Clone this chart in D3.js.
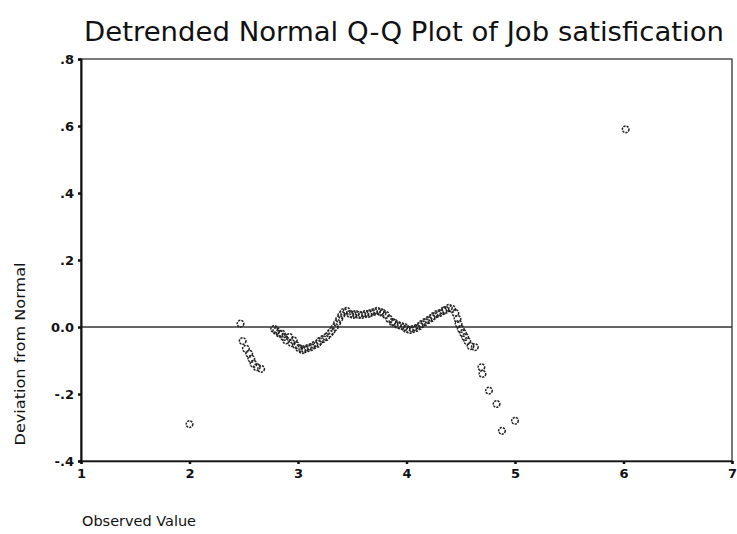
<!DOCTYPE html>
<html>
<head>
<meta charset="utf-8">
<script src="https://cdn.jsdelivr.net/npm/d3@7"></script>
<style>
  html, body { margin: 0; padding: 0; background: #fff; }
  svg { display: block; }
</style>
</head>
<body>
<svg id="chart" width="737" height="534"></svg>
<script>
// ---- data ----
const title = "Detrended Normal Q-Q Plot of Job satisfication";
const xLabel = "Observed Value";
const yLabel = "Deviation from Normal";
const xTicks = [1, 2, 3, 4, 5, 6, 7];
const xTickLabels = ["1", "2", "3", "4", "5", "6", "7"];
const yTicks = [0.8, 0.6, 0.4, 0.2, 0.0, -0.2, -0.4];
const yTickLabels = [".8", ".6", ".4", ".2", "0.0", "-.2", "-.4"];

const observed = [
  2.00, 2.47, 2.49, 2.52, 2.55, 2.57, 2.59, 2.62, 2.66,
  2.78, 2.80, 2.83, 2.85, 2.87, 2.89, 2.92, 2.94, 2.96, 2.98,
  3.01, 3.04, 3.06, 3.09, 3.12, 3.15, 3.18, 3.20, 3.23, 3.26, 3.29,
  3.31, 3.34, 3.36, 3.38, 3.40, 3.42, 3.45, 3.48, 3.51, 3.53, 3.56,
  3.59, 3.62, 3.65, 3.67, 3.70, 3.73, 3.76, 3.78, 3.81, 3.84, 3.87,
  3.89, 3.92, 3.95, 3.98, 4.00, 4.03, 4.06, 4.09, 4.12, 4.14, 4.17,
  4.20, 4.23, 4.25, 4.28, 4.31, 4.34, 4.36, 4.39, 4.42, 4.45, 4.47,
  4.48, 4.50, 4.52, 4.54, 4.56, 4.59, 4.63, 4.69, 4.70, 4.76, 4.83,
  4.88, 5.00, 6.02
];
const deviation = [
  -0.290, 0.010, -0.042, -0.065, -0.080, -0.095, -0.110, -0.120, -0.125,
  -0.006, -0.012, -0.020, -0.020, -0.030, -0.040, -0.030, -0.048, -0.040, -0.054,
  -0.063, -0.069, -0.066, -0.063, -0.060, -0.054, -0.050, -0.042, -0.036, -0.030, -0.020,
  -0.012, 0.000, 0.012, 0.024, 0.036, 0.045, 0.048, 0.039, 0.036, 0.039, 0.036,
  0.036, 0.039, 0.039, 0.042, 0.045, 0.048, 0.045, 0.042, 0.036, 0.024, 0.015,
  0.012, 0.006, 0.003, 0.000, -0.006, -0.009, -0.006, -0.003, 0.003, 0.009, 0.015,
  0.021, 0.027, 0.033, 0.039, 0.042, 0.048, 0.051, 0.057, 0.054, 0.042, 0.024,
  0.009, -0.006, -0.018, -0.030, -0.042, -0.057, -0.060, -0.120, -0.140, -0.190, -0.230,
  -0.310, -0.280, 0.590
];

// ---- layout ----
const svg = d3.select("#chart");
const mLeft = 81, mRight = 732, mTop = 59, mBottom = 461;

const x = d3.scaleLinear().domain([1, 7]).range([mLeft, mRight]);
const y = d3.scaleLinear().domain([-0.4, 0.8]).range([mBottom, mTop]);

const ink = "#111";
const font = "DejaVu Sans, Verdana, sans-serif";

// title
svg.append("text")
  .attr("x", 404).attr("y", 41)
  .attr("text-anchor", "middle")
  .attr("font-family", font)
  .attr("font-size", 26)
  .attr("textLength", 640)
  .attr("lengthAdjust", "spacingAndGlyphs")
  .attr("fill", ink)
  .text(title);

// frame
svg.append("rect")
  .attr("x", mLeft).attr("y", mTop)
  .attr("width", mRight - mLeft).attr("height", mBottom - mTop)
  .attr("fill", "none").attr("stroke", "#333").attr("stroke-width", 1.3);

// zero reference line
svg.append("line")
  .attr("x1", mLeft).attr("x2", mRight)
  .attr("y1", y(0)).attr("y2", y(0))
  .attr("stroke", "#333").attr("stroke-width", 1.3);

// y axis
const yAxis = d3.axisLeft(y)
  .tickValues(yTicks)
  .tickSize(3)
  .tickPadding(4)
  .tickFormat((d, i) => yTickLabels[i]);
const gy = svg.append("g").attr("transform", `translate(${mLeft},0)`).call(yAxis);
gy.select(".domain").attr("stroke", ink).attr("stroke-width", 2);
gy.selectAll(".tick line").attr("stroke", ink).attr("stroke-width", 2.5);
gy.selectAll(".tick text")
  .attr("font-family", font)
  .attr("font-size", 13)
  .attr("font-weight", 600)
  .attr("fill", ink);

// x axis
const xAxis = d3.axisBottom(x)
  .tickValues(xTicks)
  .tickSize(3)
  .tickPadding(5)
  .tickFormat((d, i) => xTickLabels[i]);
const gx = svg.append("g").attr("transform", `translate(0,${mBottom})`).call(xAxis);
gx.select(".domain").attr("stroke", ink).attr("stroke-width", 1.6);
gx.selectAll(".tick line").attr("stroke", ink).attr("stroke-width", 2.5);
gx.selectAll(".tick text")
  .attr("font-family", font)
  .attr("font-size", 13)
  .attr("font-weight", 600)
  .attr("fill", ink);

// axis titles
svg.append("text")
  .attr("transform", "translate(25,354) rotate(-90)")
  .attr("text-anchor", "middle")
  .attr("font-family", font)
  .attr("font-size", 14)
  .attr("textLength", 183)
  .attr("lengthAdjust", "spacingAndGlyphs")
  .attr("fill", ink)
  .text(yLabel);

svg.append("text")
  .attr("x", 82).attr("y", 526)
  .attr("font-family", font)
  .attr("font-size", 14)
  .attr("textLength", 114)
  .attr("lengthAdjust", "spacingAndGlyphs")
  .attr("fill", ink)
  .text(xLabel);

// points
const pts = observed.map((v, i) => ({ x: v, y: deviation[i] }));
svg.append("g").selectAll("circle")
  .data(pts)
  .join("circle")
  .attr("cx", d => x(d.x))
  .attr("cy", d => y(d.y))
  .attr("r", 3.3)
  .attr("fill", "none")
  .attr("stroke", "#222")
  .attr("stroke-width", 1.5)
  .attr("stroke-dasharray", "2.2,1");
</script>
</body>
</html>
